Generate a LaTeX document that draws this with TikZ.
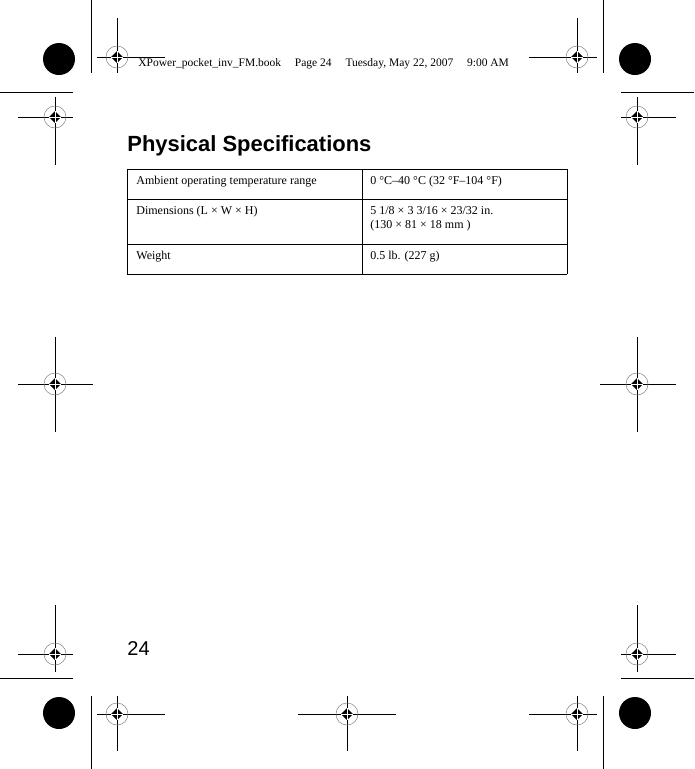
\documentclass[tikz,border=0pt]{standalone}
\usepackage{fontspec}
\setmainfont{Liberation Serif}
\setsansfont{Liberation Sans}
\begin{document}
\begin{tikzpicture}[x=1pt,y=-1pt,
  reg/.pic={\draw[line width=0.5pt,gray] (0,0) circle (11);
    \fill (0,-6)--(6,0)--(0,6)--(-6,0)--cycle;},
  cell/.style={anchor=west,font=\fontsize{12}{14}\selectfont,align=left,inner sep=0}]
\useasboundingbox (0,0) rectangle (694,769);
\tikzset{line width=0.8pt}
% registration marks: (x,y, h from,to, v from,to)
\foreach \x/\y/\ha/\hb/\va/\vb in {117/57/97/165/18/73, 577/57/529/597/18/73,
  55/117/18/73/97/165, 637/117/621/676/97/165,
  55/384/18/93/337/432, 637/384/600/676/337/432,
  55/654/18/73/605/672, 637/654/621/676/605/672,
  117/714/97/165/696/751, 347/714/298/396/696/751, 577/714/529/597/696/751}{
  \draw (\ha,\y)--(\hb,\y) (\x,\va)--(\x,\vb);
  \pic at (\x,\y) {reg};
  \draw[white,line width=0.8pt] (\x-6,\y)--(\x+6,\y) (\x,\y-6)--(\x,\y+6);
}
% crop lines
\draw (91,0)--(91,73) (0,92)--(73,92) (603,0)--(603,73) (621,92)--(694,92);
\draw (91,696)--(91,769) (0,678)--(73,678) (603,696)--(603,769) (621,678)--(694,678);
% discs
\foreach \x/\y in {59/59,635/59,59/713,635/713} \fill (\x,\y) circle (16);
% header
\node[anchor=base west,inner sep=0,font=\fontsize{11.5}{13}\selectfont] (hdr) at (138,66)
  {XPower\_pocket\_inv\_FM.book\hspace{1.2em}Page 24\hspace{1.2em}Tuesday, May 22, 2007\hspace{1.2em}9:00 AM};
% title
\node[anchor=base west,inner sep=0] (title) at (127,151)
  {\resizebox{244pt}{!}{\sffamily\bfseries\fontsize{24}{28}\selectfont Physical Specifications}};
% table
\draw[line width=1pt] (127,169)--(567,169);
\draw[line width=0.6pt] (127,199)--(567,199) (127,244)--(567,244) (127,274)--(567,274)
  (127,169)--(127,274) (567,169)--(567,274) (362,169)--(362,274);
\node[cell] (a1) at (136,182) {Ambient operating temperature range};
\node[cell] (b1) at (370,182) {0 °C–40 °C (32 °F–104 °F)};
\node[cell] (a2) at (136,212) {Dimensions (L × W × H)};
\node[cell] (b2) at (370,219) {5 1/8 × 3 3/16 × 23/32 in.\\(130 × 81 × 18 mm )};
\node[cell] (a3) at (136,257) {Weight};
\node[cell] (b3) at (370,257) {0.5 lb. (227 g)};
% page number
\node[anchor=base west,inner sep=0,font=\sffamily\fontsize{20}{24}\selectfont] (pg) at (127,655) {24};
\end{tikzpicture}
\end{document}
